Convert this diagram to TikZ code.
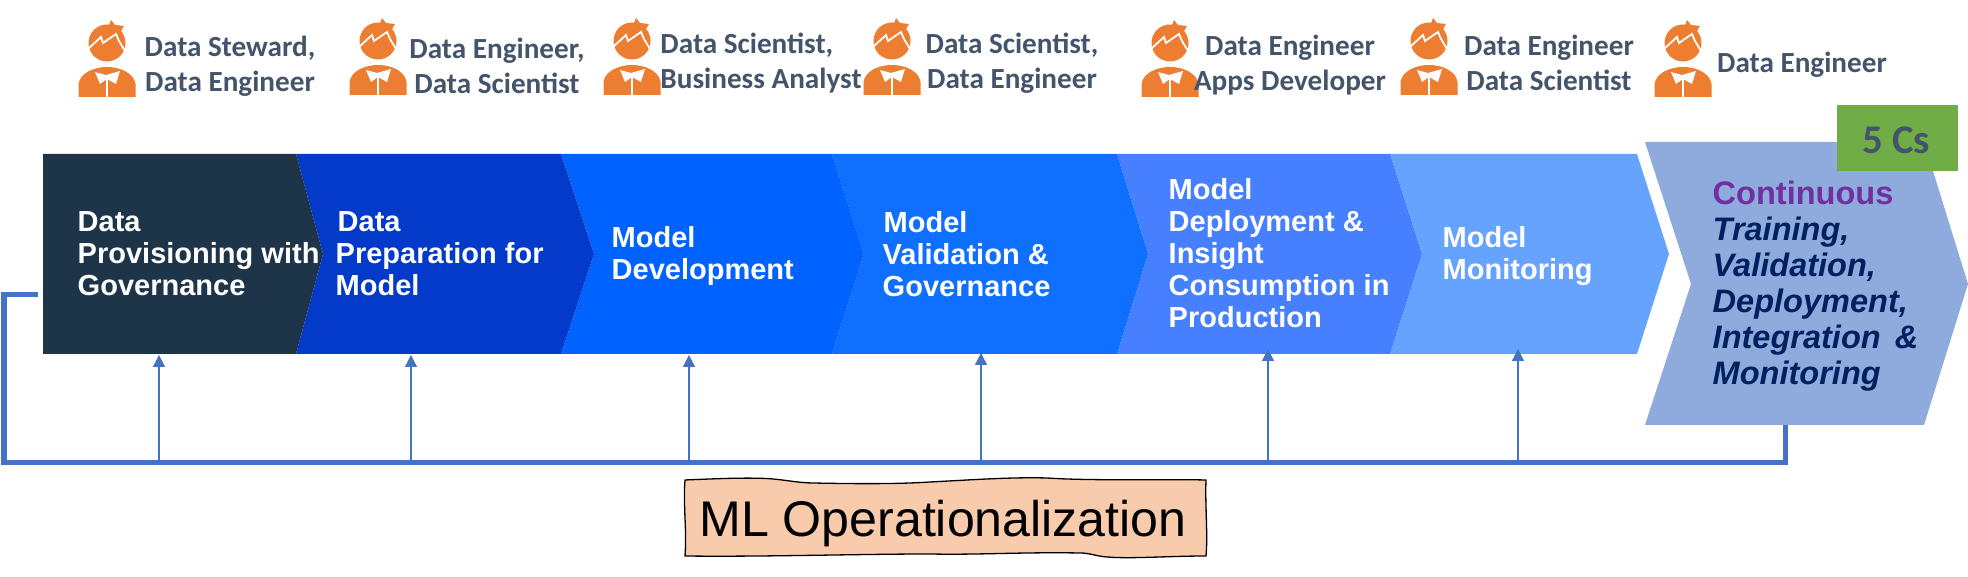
\documentclass[tikz,border=0pt]{standalone}
\usepackage{fontspec}
\usetikzlibrary{arrows.meta}
\setmainfont{Liberation Sans}
\newfontfamily\rolefont{Carlito}
\definecolor{roleink}{HTML}{44546A}
\definecolor{iconorange}{HTML}{ED7D31}
\definecolor{loopblue}{HTML}{4472C4}
\definecolor{chevA}{HTML}{1E3449}
\definecolor{chevB}{HTML}{033ACA}
\definecolor{chevC}{HTML}{0062FF}
\definecolor{chevD}{HTML}{0F6FFF}
\definecolor{chevE}{HTML}{4680FF}
\definecolor{chevF}{HTML}{66A3FF}
\definecolor{chevG}{HTML}{8FAADC}
\definecolor{tagGreen}{HTML}{70AD47}
\definecolor{opsFill}{HTML}{F8CBAD}
\definecolor{contPurple}{HTML}{7030A0}
\definecolor{contNavy}{HTML}{002060}

\tikzset{
  pics/person/.style={code={
    \fill[iconorange] (-28.5,0) -- (-28.5,-13) .. controls (-27,-24) and (-13,-30) .. (0,-30)
      .. controls (13,-30) and (27,-24) .. (28.5,-13) -- (28.5,0) -- cycle;
    \fill[white] (-12,-25) -- (-1,-22) -- (13,-26) -- (9,-13) -- (0,-18) -- (-7,-13) -- cycle;
    \draw[white, line width=0.013cm] (0,-18) -- (0,0);
    \fill[iconorange] (0,-54) circle (18.5);
    \fill[iconorange] (1,-69) -- (4,-77) -- (8,-72) -- (17,-71) -- (13,-64) -- cycle;
    \draw[white, line width=0.018cm] (-19,-48) -- (-6,-60) -- (-4,-54) -- (9,-63) -- (12,-56) -- (18,-46);
  }}
}

\begin{document}
\begin{tikzpicture}[x=0.01cm, y=-0.01cm]
    % Styles
    \tikzstyle{rolelabel} = [font=\rolefont\bfseries\fontsize{8.3}{10}\selectfont, text=roleink, align=center, inner sep=0pt]
    \tikzstyle{chevtext} = [anchor=west, font=\bfseries\fontsize{8.25}{9.1}\selectfont, text=white, align=left, inner sep=0pt]
    \tikzstyle{feedarrow} = [-{Triangle[length=0.12cm, width=0.12cm]}, draw=loopblue, fill=loopblue, line width=0.012cm]
    \tikzstyle{returnline} = [draw=loopblue, line width=0.05cm]

    \useasboundingbox (0,0) rectangle (1968,577);

    % Chevrons
    \fill[chevG] (1645,142) -- (1924,142) -- (1968,284) -- (1924,425) -- (1645,425) -- (1691,284) -- cycle;
    \fill[chevF] (1390,154) -- (1637,154) -- (1669,254) -- (1637,354) -- (1390,354) -- (1422,254) -- cycle;
    \fill[chevE] (1117,154) -- (1390,154) -- (1422,254) -- (1390,354) -- (1117,354) -- (1148,254) -- cycle;
    \fill[chevD] (832,154) -- (1117,154) -- (1148,254) -- (1117,354) -- (832,354) -- (864,254) -- cycle;
    \fill[chevC] (561,154) -- (832,154) -- (864,254) -- (832,354) -- (561,354) -- (594,254) -- cycle;
    \fill[chevB] (296,154) -- (561,154) -- (594,254) -- (561,354) -- (296,354) -- (323,254) -- cycle;
    \fill[chevA] (43,154) -- (296,154) -- (323,254) -- (296,354) -- (43,354) -- cycle;

    % Chevron texts
    \node[chevtext] (provision) at (77,254) {Data\\Provisioning with\\Governance};
    \node[chevtext] (prepare) at (335,254) {\hspace{0.02cm}Data\\Preparation for\\Model};
    \node[chevtext] (develop) at (611,256) {Model\\Development};
    \node[chevtext] (validate) at (882,254) {\hspace{0.01cm}Model\\Validation \&\\Governance};
    \node[chevtext] (deploy) at (1168,253) {Model\\Deployment \&\\Insight\\Consumption in\\Production};
    \node[chevtext] (monitor) at (1442,256) {Model\\Monitoring};
    \node[chevtext, text=contNavy, font=\bfseries\itshape\fontsize{9.25}{10.24}\selectfont] (cont) at (1712,286)
        {\textcolor{contPurple}{\upshape Continuous}\\Training,\\Validation,\\Deployment,\\Integration\hspace{0.05cm} \&\\Monitoring};

    % 5 Cs tag
    \node[fill=tagGreen, minimum width=1.21cm, minimum height=0.66cm, inner sep=0pt] (tag) at (1897.5,138) {};
    \node[text=roleink, font=\rolefont\bfseries\fontsize{11.6}{13}\selectfont, inner sep=0pt] (tagtext) at (1896,140) {5 Cs};

    % Roles
    \pic at (107,97) {person};
    \pic at (378,95) {person};
    \pic at (632,95) {person};
    \pic at (892,95) {person};
    \pic at (1170,97) {person};
    \pic at (1429,95) {person};
    \pic at (1683,97) {person};
    \node[rolelabel] (role1) at (230,66) {Data Steward,\\Data Engineer};
    \node[rolelabel] (role2) at (497,66) {Data Engineer,\\Data Scientist};
    \node[rolelabel, align=left] (role3) at (761,63) {Data Scientist,\\Business Analyst};
    \node[rolelabel] (role4) at (1012,63) {Data Scientist,\\Data Engineer};
    \node[rolelabel] (role5) at (1290,65) {Data Engineer\\Apps Developer};
    \node[rolelabel] (role6) at (1549,63) {Data Engineer\\Data Scientist};
    \node[rolelabel] (role7) at (1802,65) {Data Engineer};

    % Return line
    \coordinate (loopstart) at (1785,425);
    \coordinate (loopcorner) at (1785,463);
    \coordinate (loopleft) at (4,463);
    \coordinate (looptop) at (4,295);
    \coordinate (loopend) at (38,295);
    \draw[returnline] (loopstart) -- (loopcorner) -- (loopleft) -- (looptop) -- (loopend);

    % Arrows
    \coordinate (feed1) at (159,462);   \coordinate (into1) at (159,355);
    \coordinate (feed2) at (411,462);   \coordinate (into2) at (411,355);
    \coordinate (feed3) at (689,462);   \coordinate (into3) at (689,355);
    \coordinate (feed4) at (981,462);   \coordinate (into4) at (981,353);
    \coordinate (feed5) at (1268,462);  \coordinate (into5) at (1268,349);
    \coordinate (feed6) at (1518,462);  \coordinate (into6) at (1518,349);
    \draw[feedarrow] (feed1) -- (into1);
    \draw[feedarrow] (feed2) -- (into2);
    \draw[feedarrow] (feed3) -- (into3);
    \draw[feedarrow] (feed4) -- (into4);
    \draw[feedarrow] (feed5) -- (into5);
    \draw[feedarrow] (feed6) -- (into6);

    % ML box
    \draw[fill=opsFill, line width=0.013cm] (685,480) .. controls (710,479) and (750,477) .. (773,479)
        .. controls (785,480) and (800,483) .. (813,483) .. controls (860,484) and (900,484) .. (930,482)
        .. controls (970,480) and (1010,477) .. (1047,478) .. controls (1090,481) and (1160,479) .. (1206,480)
        .. controls (1205,505) and (1208,535) .. (1206,556)
        .. controls (1170,556) and (1130,559) .. (1107,557) .. controls (1095,556) and (1090,553) .. (1080,553)
        .. controls (1020,552) and (980,555) .. (930,554) .. controls (860,554) and (760,557) .. (685,556)
        .. controls (687,530) and (683,505) .. (685,480) -- cycle;
    \node[font=\fontsize{14.25}{16}\selectfont, text=black, inner sep=0pt, anchor=base] (ops) at (943,537) {ML Operationalization};
\end{tikzpicture}
\end{document}
